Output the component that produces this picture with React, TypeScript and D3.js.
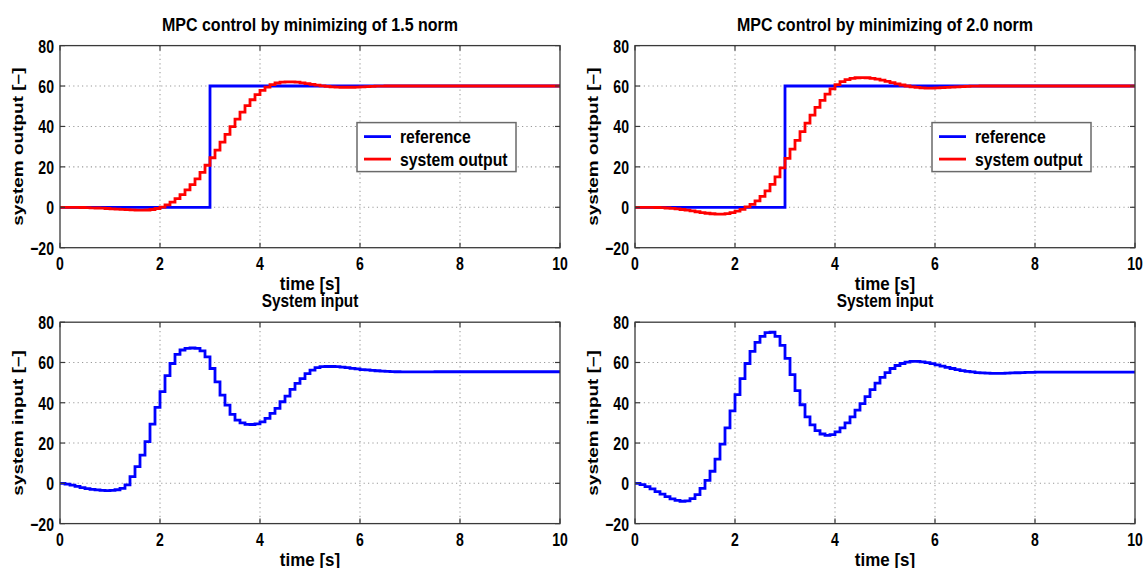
import React from 'react'
import * as d3 from 'd3'

const W = 1145
const H = 568

// controller sample time [s], every series below is one value per sample
const TS = 0.1

const refTime = [0, 3, 3, 10]
const refValue = [0, 0, 60, 60]

const output15 = [
  0, 0, 0, -0.05, -0.1, -0.15, -0.25, -0.35, -0.45, -0.6,
  -0.75, -0.9, -1.05, -1.2, -1.3, -1.4, -1.4, -1.35, -1.1, -0.6,
  0.1, 1.2, 2.6, 4.3, 6.3, 8.6, 11.2, 14.1, 17.3, 20.8,
  24.5, 28.3, 32.2, 36.1, 39.9, 43.6, 47.1, 50.3, 53.2, 55.7,
  57.8, 59.5, 60.7, 61.5, 61.9, 62.1, 62.1, 61.9, 61.6, 61.2,
  60.8, 60.4, 60.1, 59.8, 59.6, 59.5, 59.4, 59.4, 59.4, 59.5,
  59.6, 59.7, 59.8, 59.9, 59.9, 60, 60, 60, 60, 60,
  60, 60, 60, 60, 60, 60, 60, 60, 60, 60,
  60, 60, 60, 60, 60, 60, 60, 60, 60, 60,
  60, 60, 60, 60, 60, 60, 60, 60, 60, 60, 60,
]

const input15 = [
  0, -0.4, -0.9, -1.5, -2.1, -2.6, -3.0, -3.3, -3.5, -3.6,
  -3.5, -3.2, -2.5, -0.8, 3.3, 8.3, 14, 20.7, 29.4, 37.7,
  45.5, 53.5, 59.5, 64, 66.2, 67, 67.2, 67, 65.8, 62.8,
  57, 50.4, 43.8, 38.8, 34.2, 31.4, 30, 29.3, 29.2, 29.5,
  30.5, 32.2, 34.7, 37.2, 40.5, 43.3, 46.6, 49.6, 52, 54.5,
  56.2, 57.4, 57.9, 58, 58, 57.9, 57.7, 57.4, 57.1, 56.8,
  56.5, 56.3, 56.1, 55.9, 55.7, 55.6, 55.5, 55.4, 55.3, 55.3,
  55.3, 55.3, 55.3, 55.3, 55.3, 55.4, 55.4, 55.4, 55.4, 55.4,
  55.4, 55.4, 55.4, 55.4, 55.4, 55.4, 55.4, 55.4, 55.4, 55.4,
  55.4, 55.4, 55.4, 55.4, 55.4, 55.4, 55.4, 55.4, 55.4, 55.4, 55.4,
]

const output20 = [
  0, 0, 0, -0.05, -0.1, -0.2, -0.35, -0.55, -0.8, -1.1,
  -1.45, -1.8, -2.2, -2.6, -2.95, -3.2, -3.35, -3.35, -3.1, -2.6,
  -1.9, -1.0, 0.2, 1.4, 3.2, 5.4, 8.1, 11.3, 15.0, 19.5,
  24.2, 28.8, 33.1, 37.4, 41.6, 45.6, 49.4, 52.9, 56, 58.6,
  60.7, 62.2, 63.2, 63.8, 64.1, 64.2, 64.1, 63.8, 63.4, 62.9,
  62.3, 61.7, 61.1, 60.5, 60, 59.6, 59.3, 59.1, 59, 59,
  59.1, 59.2, 59.3, 59.5, 59.6, 59.7, 59.8, 59.9, 59.9, 60,
  60, 60, 60, 60, 60, 60, 60, 60, 60, 60,
  60, 60, 60, 60, 60, 60, 60, 60, 60, 60,
  60, 60, 60, 60, 60, 60, 60, 60, 60, 60, 60,
]

const input20 = [
  0, -0.6, -1.6, -2.8, -4.1, -5.4, -6.6, -7.7, -8.5, -8.9,
  -8.7, -7.6, -5.6, -2.5, 1.5, 6, 12, 19.5, 27.5, 36,
  44, 52, 59.5, 65.5, 70, 73, 74.8, 75, 73, 68.5,
  62, 54, 46, 39, 33, 29, 26.2, 24.5, 23.8, 24.2,
  25.5, 27.5, 30, 33, 36.3, 39.6, 43, 46.5, 49.7, 52.6,
  55, 57, 58.5, 59.5, 60.2, 60.5, 60.5, 60.3, 59.9, 59.4,
  58.8, 58.2, 57.6, 57.0, 56.5, 56.0, 55.6, 55.3, 55.0, 54.8,
  54.7, 54.6, 54.6, 54.6, 54.7, 54.8, 54.9, 55.0, 55.1, 55.1,
  55.2, 55.2, 55.2, 55.2, 55.2, 55.2, 55.2, 55.2, 55.2, 55.2,
  55.2, 55.2, 55.2, 55.2, 55.2, 55.2, 55.2, 55.2, 55.2, 55.2, 55.2,
]

const xTicks = [0, 2, 4, 6, 8, 10]
const yTicks = [-20, 0, 20, 40, 60, 80]
const legendLabels = ['reference', 'system output']

const BLUE = '#0000ff'
const RED = '#ff0000'
const FONT = '"Liberation Sans", Arial, Helvetica, sans-serif'

const sampled = (values) => values.map((v, i) => [i * TS, v])
const paired = (ts, vs) => ts.map((t, i) => [t, vs[i]])

function Txt({ x, y, text, size, sx = 1, anchor = 'middle', rotate = false }) {
  const tf = `translate(${x},${y}) scale(${sx},1)` + (rotate ? ' rotate(-90)' : '')
  return (
    <text transform={tf} textAnchor={anchor} fontFamily={FONT} fontWeight="bold"
      fontSize={size} fill="#000">
      {text}
    </text>
  )
}

function Panel({ left, top, bottom, title, ylabel, series, legend }) {
  const width = 500
  const x = d3.scaleLinear().domain([0, 10]).range([left, left + width])
  const y = d3.scaleLinear().domain([-20, 80]).range([bottom, top])
  const cx = left + width / 2
  const fmt = d3.format('')

  const makeLine = (step) => d3.line()
    .x((d) => x(d[0]))
    .y((d) => y(d[1]))
    .curve(step ? d3.curveStepAfter : d3.curveLinear)

  const lx = left + 297
  const ly = top + 77

  return (
    <g>
      {/* dotted grid */}
      <g stroke="#9a9a9a" strokeWidth={1.1} strokeDasharray="1.2,3.2">
        {xTicks.slice(1, -1).map((t) => (
          <line key={'gx' + t} x1={x(t)} x2={x(t)} y1={top} y2={bottom} />
        ))}
        {yTicks.slice(1, -1).map((t) => (
          <line key={'gy' + t} x1={left} x2={left + width} y1={y(t)} y2={y(t)} />
        ))}
      </g>

      {series.map((s, i) => (
        <path key={i} d={makeLine(s.step)(s.data)} fill="none" stroke={s.color}
          strokeWidth={2.8} strokeLinejoin="miter" />
      ))}

      {/* box and inner ticks */}
      <rect x={left} y={top} width={width} height={bottom - top} fill="none"
        stroke="#3a3a3a" strokeWidth={1.3} />
      <g stroke="#3a3a3a" strokeWidth={1.2}>
        {xTicks.map((t) => (
          <g key={'tx' + t}>
            <line x1={x(t)} x2={x(t)} y1={bottom} y2={bottom - 5} />
            <line x1={x(t)} x2={x(t)} y1={top} y2={top + 5} />
          </g>
        ))}
        {yTicks.map((t) => (
          <g key={'ty' + t}>
            <line x1={left} x2={left + 5} y1={y(t)} y2={y(t)} />
            <line x1={left + width} x2={left + width - 5} y1={y(t)} y2={y(t)} />
          </g>
        ))}
      </g>

      {xTicks.map((t) => (
        <Txt key={'lx' + t} x={x(t)} y={bottom + 22.5} text={fmt(t)} size={19} sx={0.74} />
      ))}
      {yTicks.map((t) => (
        <Txt key={'ly' + t} x={left - 6} y={y(t) + 7} text={fmt(t)} size={19} sx={0.74}
          anchor="end" />
      ))}

      <Txt x={cx} y={top - 15} text={title} size={17.5} sx={title.length > 20 ? 0.915 : 0.88} />
      <Txt x={cx} y={bottom + 42} text="time [s]" size={17.5} sx={0.97} />
      <Txt x={left - 37.5} y={(top + bottom) / 2} text={ylabel} size={19} sx={0.74} rotate />

      {legend && (
        <g>
          <rect x={lx} y={ly} width={159} height={49} fill="#fff" stroke="#6a6a6a"
            strokeWidth={1.5} />
          {legendLabels.map((lab, i) => (
            <g key={lab}>
              <line x1={lx + 7} x2={lx + 34} y1={ly + 14 + i * 22.5} y2={ly + 14 + i * 22.5}
                stroke={i === 0 ? BLUE : RED} strokeWidth={2.8} />
              <Txt x={lx + 43} y={ly + 20 + i * 23} text={lab} size={17.5} sx={0.9}
                anchor="start" />
            </g>
          ))}
        </g>
      )}
    </g>
  )
}

export default function App() {
  const topY = [45.6, 247.7]
  const botY = [322.2, 523.6]
  return (
    <svg width={W} height={H} style={{ position: 'absolute', left: 0, top: 0, background: '#fff' }}>
      <rect width={W} height={H} fill="#fff" />
      <Panel left={60} top={topY[0]} bottom={topY[1]}
        title="MPC control by minimizing of 1.5 norm" ylabel="system output [–]" legend
        series={[
          { data: paired(refTime, refValue), color: BLUE, step: false },
          { data: sampled(output15), color: RED, step: true },
        ]} />
      <Panel left={635} top={topY[0]} bottom={topY[1]}
        title="MPC control by minimizing of 2.0 norm" ylabel="system output [–]" legend
        series={[
          { data: paired(refTime, refValue), color: BLUE, step: false },
          { data: sampled(output20), color: RED, step: true },
        ]} />
      <Panel left={60} top={botY[0]} bottom={botY[1]}
        title="System input" ylabel="system input [–]"
        series={[{ data: sampled(input15), color: BLUE, step: true }]} />
      <Panel left={635} top={botY[0]} bottom={botY[1]}
        title="System input" ylabel="system input [–]"
        series={[{ data: sampled(input20), color: BLUE, step: true }]} />
    </svg>
  )
}
